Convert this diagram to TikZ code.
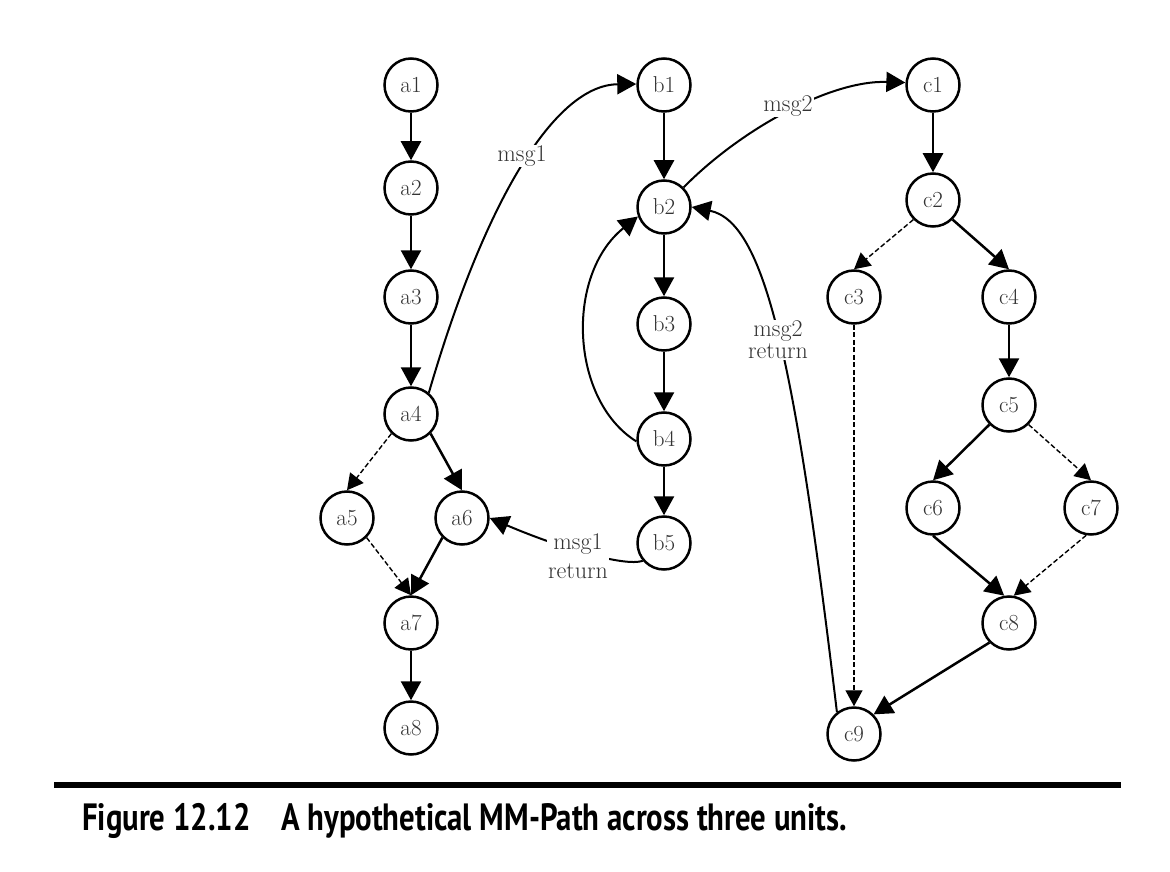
\documentclass[tikz,border=0pt]{standalone}
\usepackage{fontspec}
\usetikzlibrary{arrows.meta}
\newfontfamily\capfont[FakeStretch=0.81]{PT Sans}
\begin{document}
\begin{tikzpicture}[x=1pt,y=-1pt,
  st/.style={circle, draw, line width=2.5pt, minimum size=53pt, inner sep=0pt,
    font=\fontsize{23}{26}\selectfont, text=black!80},
  ed/.style={line width=2.5pt, -{Triangle[length=19pt,width=20pt]}},
  dd/.style={line width=1.4pt, dash pattern=on 5pt off 2.5pt, -{Triangle[length=16pt,width=17pt]}},
  msg/.style={line width=2pt, -{Triangle[length=19pt,width=20pt]}},
  lab/.style={fill=white, inner sep=1pt, align=center, text=black!80}]
\useasboundingbox (0,0) rectangle (1170,872);
% unit a
\node[st] (a1) at (411,85) {a1};
\node[st] (a2) at (411,188) {a2};
\node[st] (a3) at (411,297) {a3};
\node[st] (a4) at (411,414) {a4};
\node[st] (a5) at (347,518) {a5};
\node[st] (a6) at (462,518) {a6};
\node[st] (a7) at (411,623) {a7};
\node[st] (a8) at (411,728) {a8};
% unit b
\node[st] (b1) at (664,85) {b1};
\node[st] (b2) at (664,207) {b2};
\node[st] (b3) at (664,324) {b3};
\node[st] (b4) at (664,439) {b4};
\node[st] (b5) at (664,543) {b5};
% unit c
\node[st] (c1) at (933,85) {c1};
\node[st] (c2) at (933,200) {c2};
\node[st] (c3) at (854,297) {c3};
\node[st] (c4) at (1009,297) {c4};
\node[st] (c5) at (1009,405) {c5};
\node[st] (c6) at (933,508) {c6};
\node[st] (c7) at (1091,508) {c7};
\node[st] (c8) at (1009,623) {c8};
\node[st] (c9) at (854,734) {c9};
% edges a
\draw[ed] (a1) -- (a2);
\draw[ed] (a2) -- (a3);
\draw[ed] (a3) -- (a4);
\draw[dd] (a4.-135) -- (a5.north);
\draw[ed] (a4.-45) -- (a6.north);
\draw[dd] (a5.-45) -- (a7.north);
\draw[ed] (a6.-135) -- (a7.north);
\draw[ed] (a7) -- (a8);
% edges b
\draw[ed] (b1) -- (b2);
\draw[ed] (b2) -- (b3);
\draw[ed] (b3) -- (b4);
\draw[ed] (b4) -- (b5);
% edges c
\draw[ed] (c1) -- (c2);
\draw[dd] (c2.-135) -- (c3.north);
\draw[ed] (c2.-45) -- (c4.north);
\draw[ed] (c4) -- (c5);
\draw[ed] (c5.-135) -- (c6.north);
\draw[dd] (c5.-45) -- (c7.north);
\draw[ed] (c6.south) -- (c8.100);
\draw[dd] (c7.-100) -- (c8.80);
\draw[dd] (c3) -- (c9);
\draw[ed] (c8.-135) -- (c9.45);
% messages
\draw[msg] (a4.50) .. controls (485,200) and (555,85) .. (b1.178);
\draw[msg] (b2.45) .. controls (740,130) and (830,80) .. (c1.175);
\draw[msg] (b4.185) .. controls (570,400) and (565,275) .. (b2.200);
\draw[msg] (c9.128) .. controls (795,360) and (765,222) .. (b2.east);
\draw[msg] (b5.220) .. controls (625,567) and (560,548) .. (a6.east);
\node[lab, font=\fontsize{24}{26}\selectfont] (m1) at (522,156) {msg1};
\node[lab, font=\fontsize{24}{26}\selectfont] (m2) at (788,106) {msg2};
\node[lab, font=\fontsize{24}{22}\selectfont] (m2r) at (778,340) {msg2\\return};
\node[lab, font=\fontsize{24}{29}\selectfont] (m1r) at (578,556) {msg1\\return};
% rule and caption
\draw[line width=6pt] (54,785) -- (1121,785);
\node[anchor=west, inner sep=0pt,
  font=\capfont\bfseries\fontsize{38}{42}\selectfont] (cap) at (82,821)
  {Figure 12.12\hspace{0.8em}A hypothetical MM-Path across three units.};
\end{tikzpicture}
\end{document}
